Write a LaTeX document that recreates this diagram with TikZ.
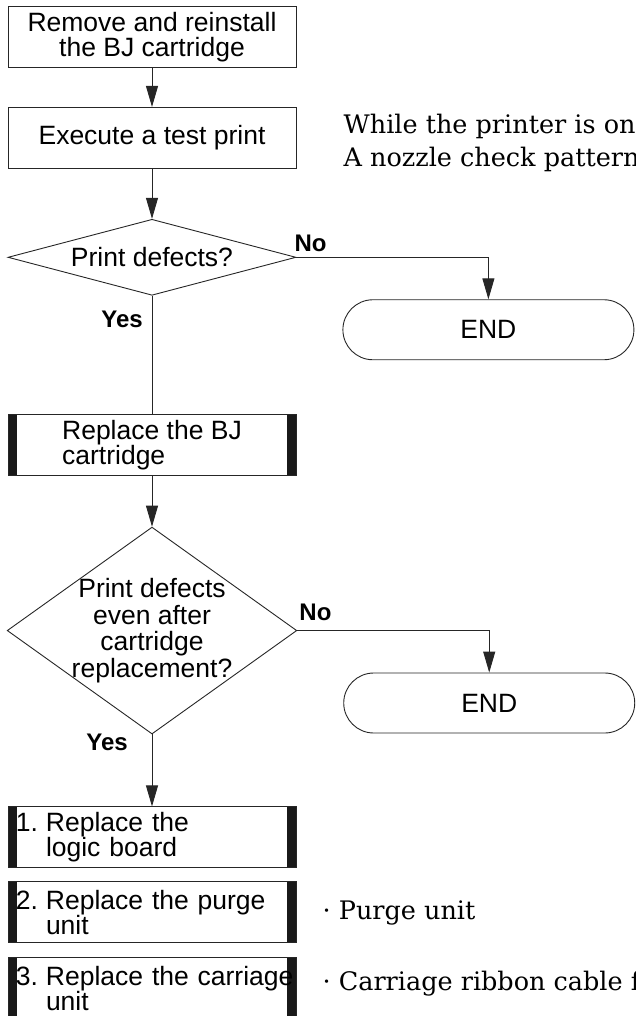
\documentclass[tikz,border=0pt]{standalone}
\usepackage{fontspec}
\setmainfont{DejaVu Serif}
\setsansfont{Liberation Sans}
\usetikzlibrary{positioning, shapes.geometric, arrows.meta}

\newcommand{\numstep}[3]{\mbox{\makebox[30pt][l]{#1.}#2}\\\mbox{\hspace*{30pt}#3}}

\begin{document}
\begin{tikzpicture}[
    x=1pt, y=1pt,
    font=\sffamily\fontsize{26.5}{25}\selectfont,
    box/.style={rectangle, draw=black!85, line width=0.9pt, minimum width=288pt, minimum height=61pt, inner xsep=4pt, inner ysep=2pt, align=center},
    proc/.style={box, path picture={
        \fill[black!90] (path picture bounding box.south west) rectangle ([xshift=9pt]path picture bounding box.north west);
        \fill[black!90] (path picture bounding box.south east) rectangle ([xshift=-9pt]path picture bounding box.north east);}},
    numproc/.style={proc, text width=272pt, inner xsep=8pt, align=left},
    decision/.style={diamond, draw=black!85, line width=0.9pt, inner sep=-2pt, align=center},
    stop/.style={rectangle, rounded corners=30pt, draw=black!85, line width=0.9pt, minimum width=291pt, minimum height=60pt},
    lbl/.style={inner sep=0pt, font=\sffamily\bfseries\fontsize{24}{24}\selectfont},
    note/.style={inner sep=0pt, font=\rmfamily\fontsize{25.5}{33}\selectfont, align=left},
    flow/.style={draw=black!85, line width=0.9pt, -{Triangle[width=12pt,length=21pt]}},
    plain/.style={draw=black!85, line width=0.9pt}
]
\useasboundingbox (0,0) rectangle (635,-1016);

% --- steps ---
\node[box] (reinstall) at (152,-37) {Remove and reinstall\\the BJ cartridge};
\node[box, below=39pt of reinstall] (testprint) {Execute a test print};
\node[decision, below=50pt of testprint, minimum width=288pt, minimum height=76pt, aspect=3.8] (defects) {Print defects?};
\node[stop, below right=42pt and 46pt of defects.east] (end1) {END};
\node[proc, align=left, below=118pt of defects] (newcart) {Replace the BJ\\cartridge};
\node[decision, below=51pt of newcart, minimum width=288pt, minimum height=206pt, aspect=1.4, inner sep=-3.5pt,
      font=\sffamily\fontsize{26.5}{26.5}\selectfont] (stilldef) {Print defects\\even after\\cartridge\\replacement?};
\node[stop, below right=42pt and 46pt of stilldef.east] (end2) {END};
\node[numproc, below=72pt of stilldef] (logic) {\numstep{1}{Replace the}{logic board}};
\node[numproc, below=13pt of logic] (purge) {\numstep{2}{Replace the purge}{unit}};
\node[numproc, below=14pt of purge] (carriage) {\numstep{3}{Replace the carriage}{unit}};

% --- labels and notes ---
\node[lbl, anchor=base west] (no1) at ([shift={(-2,6)}]defects.east) {No};
\node[lbl, anchor=base east] (yes1) at ([shift={(-9,-32)}]defects.south) {Yes};
\node[lbl, anchor=base west] (no2) at ([shift={(2,10)}]stilldef.east) {No};
\node[lbl, anchor=base east] (yes2) at ([shift={(-24,-16)}]stilldef.south) {Yes};
\node[note, anchor=base west] (nozzle) at ([shift={(47,-28.5)}]testprint.east) {While the printer is on\\A nozzle check pattern};
\node[note, anchor=base west] (purgenote) at ([shift={(26,-7.5)}]purge.east) {· Purge unit};
\node[note, anchor=base west] (cablenote) at ([shift={(26,-2.5)}]carriage.east) {· Carriage ribbon cable f};

% --- connectors ---
\draw[flow] (reinstall) -- (testprint);
\draw[flow] (testprint) -- (defects);
\draw[flow] (defects.east) -| (end1.north);
\draw[plain] (defects) -- (newcart);
\draw[flow] (newcart) -- (stilldef);
\draw[flow] (stilldef.east) -| (end2.north);
\draw[flow] (stilldef) -- (logic);
\end{tikzpicture}
\end{document}
